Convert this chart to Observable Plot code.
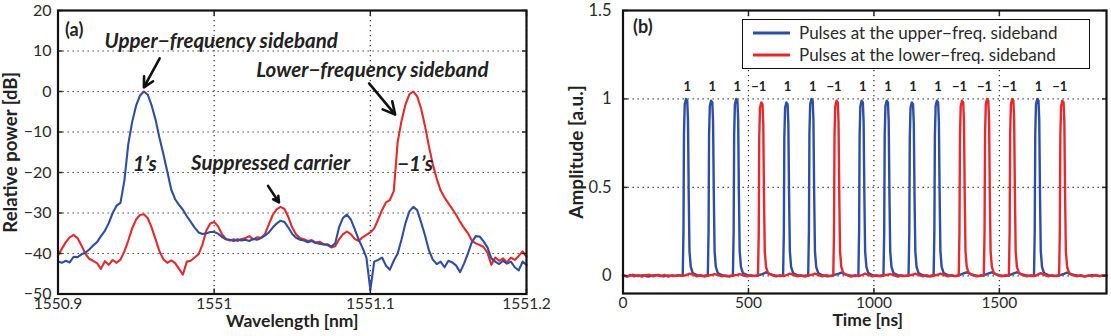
<!DOCTYPE html>
<html><head><meta charset="utf-8">
<script src="https://cdn.jsdelivr.net/npm/d3@7"></script>
<script src="https://cdn.jsdelivr.net/npm/@observablehq/plot@0.6"></script>
<style>
body{margin:0;background:#fff;width:1111px;height:336px;overflow:hidden;position:relative;font-family:Lato,sans-serif}
#a{position:absolute;left:0;top:0}
#b{position:absolute;left:560px;top:0}
#legend{position:absolute;left:742px;top:19px;width:346px;height:48px;border:1.5px solid #111;background:#fff}
</style></head><body>
<div id="a"></div><div id="b"></div><div id="legend"></div>
<script>
// ---------- Panel (a): optical spectrum ----------
const wlStart = 1550.9, wlStep = 0.0025;   // sampling grid of the spectrum (nm)
const wlTicks = [1550.9, 1551, 1551.1, 1551.2];
const powerTicks = [-50, -40, -30, -20, -10, 0, 10, 20];
const upperSideband = [
-42.0,-42.3,-41.8,-42.2,-40.8,-40.9,-40.2,-39.8,-39.0,-38.0,
-37.2,-35.7,-34.4,-32.5,-30.0,-28.2,-27.5,-22.0,-13.0,-7.5,
-3.5,-1.0,0.0,-0.8,-3.5,-7.0,-11.5,-15.5,-19.8,-24.2,
-26.6,-28.0,-29.2,-30.8,-32.2,-33.6,-34.8,-35.2,-35.0,-34.7,
-34.7,-35.1,-35.9,-36.5,-36.6,-36.9,-36.5,-36.8,-36.6,-36.9,
-36.4,-36.6,-36.2,-35.6,-34.8,-33.6,-32.6,-31.9,-32.2,-33.6,
-35.2,-36.1,-36.6,-36.8,-37.2,-36.9,-37.4,-37.6,-37.8,-37.7,
-38.3,-37.5,-33.5,-31.2,-30.4,-31.6,-34.0,-36.5,-38.6,-41.0,
-49.0,-42.0,-41.6,-41.0,-43.0,-44.0,-41.8,-40.0,-36.5,-32.5,
-29.6,-28.5,-29.3,-32.3,-35.5,-39.2,-41.5,-42.6,-42.0,-43.4,
-41.8,-42.2,-43.0,-44.6,-42.5,-40.0,-37.2,-35.7,-35.8,-37.0,
-38.5,-41.2,-42.0,-42.6,-41.8,-42.5,-42.0,-43.4,-44.2,-42.0,
-42.8];
const lowerSideband = [
-40.5,-38.8,-37.2,-36.0,-35.4,-36.2,-38.0,-40.0,-41.3,-41.8,
-42.4,-43.8,-41.9,-42.8,-41.6,-42.3,-41.5,-39.5,-36.8,-33.8,
-31.6,-30.5,-30.3,-31.3,-33.6,-36.5,-39.5,-41.4,-42.3,-41.7,
-42.4,-43.8,-45.2,-42.0,-41.8,-41.0,-40.2,-37.8,-34.3,-32.6,
-32.2,-33.3,-35.2,-36.4,-36.8,-36.5,-36.9,-36.4,-36.2,-35.7,
-36.5,-36.0,-36.1,-35.2,-32.8,-30.5,-29.1,-28.5,-29.0,-31.0,
-33.6,-35.3,-36.2,-36.5,-36.9,-36.7,-37.3,-37.1,-37.7,-37.9,
-38.5,-38.2,-36.5,-35.2,-34.6,-35.2,-36.4,-36.9,-36.0,-35.4,
-34.8,-33.8,-31.6,-29.3,-27.4,-26.8,-24.6,-12.5,-7.2,-3.2,
-0.7,0.0,-1.2,-4.2,-8.5,-13.5,-18.0,-21.5,-24.4,-26.2,
-27.6,-29.0,-30.5,-32.2,-33.7,-35.0,-36.8,-37.5,-37.9,-38.4,
-39.8,-42.8,-41.0,-41.8,-41.2,-42.2,-41.0,-41.6,-40.6,-39.5,
-40.8];
const spectrumNotes = [
  {text: "Upper\u2212frequency sideband", x: 1551.0045, y: 12.4},
  {text: "Lower\u2212frequency sideband", x: 1551.1013, y: 5.3},
  {text: "1\u2019s", x: 1550.9556, y: -18.0},
  {text: "Suppressed carrier", x: 1551.0362, y: -17.8},
  {text: "\u22121\u2019s", x: 1551.1287, y: -17.9}
];
const spectrumArrows = [
  {x1: 1550.9651, y1: 8.2, x2: 1550.9550, y2: 1.0},
  {x1: 1551.0992, y1: 2.0, x2: 1551.1159, y2: -5.7},
  {x1: 1551.0345, y1: -23.3, x2: 1551.0415, y2: -27.4}
];

// ---------- Panel (b): pulse trains ----------
const timeTicks = [0, 500, 1000, 1500];
const ampTicks = [0, 0.5, 1, 1.5];
const seriesNames = ["Pulses at the upper\u2212freq. sideband", "Pulses at the lower\u2212freq. sideband"];
const pulseTimes = [255,355,455,555,655,755,855,955,1055,1155,1255,1355,1455,1555,1655,1755];
const pulseBits = ["1","1","1","\u22121","1","1","\u22121","1","1","1","1","\u22121","\u22121","\u22121","1","\u22121"];
const upperTrace = [
[0,0.004],[20,-0.003],[40,0.005],[60,-0.002],[80,0.003],[100,-0.004],[120,0.002],[140,0.005],[160,-0.003],[180,0.002],[200,-0.002],[220,0.004],[238,0.0],
[241,0.25],[243,0.8],[246,0.97],[251,1.0],[256,0.99],[259,0.88],[262,0.45],[265,0.14],[270,0.05],[278,0.015],
[295,0.004],[315,-0.002],[335,0.003],[338,0.0],
[341,0.25],[343,0.79],[346,0.96],[351,0.99],[356,0.98],[359,0.87],[362,0.45],[365,0.14],[370,0.05],[378,0.015],
[395,0.003],[415,-0.003],[435,0.002],[438,0.0],
[441,0.25],[443,0.8],[446,0.97],[451,1.0],[456,0.99],[459,0.88],[462,0.45],[465,0.14],[470,0.05],[478,0.015],
[495,0.004],[515,-0.002],[540,0.003],[560,0.012],[570,0.02],[585,0.01],[605,0.002],[625,-0.002],[638,0.0],
[641,0.24],[643,0.78],[646,0.95],[651,0.98],[656,0.97],[659,0.86],[662,0.44],[665,0.14],[670,0.05],[678,0.015],
[695,0.003],[715,-0.002],[735,0.004],[738,0.0],
[741,0.25],[743,0.8],[746,0.97],[751,1.0],[756,0.99],[759,0.88],[762,0.45],[765,0.14],[770,0.05],[778,0.015],
[795,0.003],[815,-0.003],[840,0.004],[860,0.012],[870,0.018],[885,0.008],[905,0.002],[925,-0.002],[938,0.0],
[941,0.25],[943,0.79],[946,0.96],[951,0.99],[956,0.98],[959,0.87],[962,0.45],[965,0.14],[970,0.05],[978,0.015],
[995,0.003],[1015,-0.002],[1035,0.003],[1038,0.0],
[1041,0.25],[1043,0.79],[1046,0.96],[1051,0.99],[1056,0.98],[1059,0.87],[1062,0.45],[1065,0.14],[1070,0.05],[1078,0.015],
[1095,0.004],[1115,-0.002],[1135,0.002],[1138,0.0],
[1141,0.24],[1143,0.78],[1146,0.95],[1151,0.98],[1156,0.97],[1159,0.86],[1162,0.44],[1165,0.14],[1170,0.05],[1178,0.015],
[1195,0.003],[1215,-0.003],[1235,0.003],[1238,0.0],
[1241,0.25],[1243,0.79],[1246,0.96],[1251,0.99],[1256,0.98],[1259,0.87],[1262,0.45],[1265,0.14],[1270,0.05],[1278,0.015],
[1295,0.004],[1320,-0.002],[1340,0.004],[1360,0.015],[1370,0.02],[1385,0.01],[1400,0.004],[1420,-0.002],[1440,0.004],[1460,0.015],[1470,0.02],[1485,0.01],[1500,0.004],[1520,-0.002],[1540,0.004],[1560,0.015],[1570,0.02],[1585,0.01],[1605,0.003],[1625,-0.002],[1638,0.0],
[1641,0.25],[1643,0.8],[1646,0.97],[1651,1.0],[1656,0.99],[1659,0.88],[1662,0.45],[1665,0.14],[1670,0.05],[1678,0.015],
[1695,0.004],[1715,-0.002],[1740,0.003],[1760,0.012],[1770,0.018],[1785,0.008],[1810,0.002],[1840,-0.003],[1870,0.004],[1900,-0.002],[1927,0.003]
];
const lowerTrace = [
[0,0.003],[15,-0.004],[30,0.005],[45,-0.003],[60,0.004],[75,-0.005],[90,0.002],[105,0.006],[120,-0.003],[135,0.004],[150,-0.002],[165,0.005],[180,-0.004],[195,0.003],[210,-0.002],[225,0.004],[240,0.0],[255,0.006],[265,0.012],[280,0.006],[295,-0.003],[310,0.004],[325,-0.004],[340,0.002],[355,0.005],[365,0.01],[380,0.004],[395,-0.003],[410,0.003],[425,-0.004],[440,0.002],[455,0.005],[465,0.01],[480,0.003],[495,-0.003],[510,0.004],[525,-0.002],[538,0.0],
[541,0.24],[543,0.78],[546,0.95],[551,0.98],[556,0.97],[559,0.86],[562,0.44],[565,0.14],[570,0.05],[578,0.015],
[595,0.004],[610,-0.003],[625,0.003],[640,-0.002],[655,0.006],[665,0.012],[680,0.005],[695,-0.003],[710,0.004],[725,-0.004],[740,0.003],[755,0.006],[765,0.012],[780,0.004],[795,-0.003],[810,0.004],[825,-0.002],[838,0.0],
[841,0.25],[843,0.79],[846,0.96],[851,0.99],[856,0.98],[859,0.87],[862,0.45],[865,0.14],[870,0.05],[878,0.015],
[895,0.003],[910,-0.004],[925,0.004],[940,-0.002],[955,0.006],[965,0.012],[980,0.004],[995,-0.003],[1010,0.004],[1025,-0.003],[1040,0.003],[1055,0.006],[1065,0.01],[1080,0.004],[1095,-0.004],[1110,0.003],[1125,-0.002],[1140,0.003],[1155,0.006],[1165,0.012],[1180,0.004],[1195,-0.003],[1210,0.004],[1225,-0.004],[1240,0.002],[1255,0.006],[1265,0.012],[1280,0.004],[1295,-0.003],[1310,0.004],[1325,-0.002],[1338,0.0],
[1341,0.25],[1343,0.79],[1346,0.96],[1351,0.99],[1356,0.98],[1359,0.87],[1362,0.45],[1365,0.14],[1370,0.05],[1378,0.015],
[1395,0.004],[1410,-0.003],[1425,0.003],[1438,0.0],
[1441,0.25],[1443,0.8],[1446,0.97],[1451,1.0],[1456,0.99],[1459,0.88],[1462,0.45],[1465,0.14],[1470,0.05],[1478,0.015],
[1495,0.003],[1510,-0.003],[1525,0.004],[1538,0.0],
[1541,0.25],[1543,0.8],[1546,0.97],[1551,1.0],[1556,0.99],[1559,0.88],[1562,0.45],[1565,0.14],[1570,0.05],[1578,0.015],
[1595,0.004],[1610,-0.003],[1625,0.003],[1640,-0.002],[1655,0.008],[1665,0.015],[1680,0.005],[1695,-0.003],[1710,0.004],[1725,-0.002],[1738,0.0],
[1741,0.25],[1743,0.79],[1746,0.96],[1751,0.99],[1756,0.98],[1759,0.87],[1762,0.45],[1765,0.14],[1770,0.05],[1778,0.015],
[1795,0.004],[1810,-0.003],[1825,0.004],[1840,-0.004],[1855,0.003],[1870,-0.003],[1885,0.005],[1900,-0.002],[1915,0.003],[1927,-0.001]
];

// ---------- styles ----------
const BLUE = "#2d4ea3", RED = "#e52a2e";
const FONT = "Lato, sans-serif";
const grid = {stroke: "#333", strokeOpacity: 1, strokeWidth: 1.2, strokeDasharray: "1.3,3.7"};

const upperPts = upperSideband.map((v, i) => ({wl: wlStart + i * wlStep, p: v}));
const lowerPts = lowerSideband.map((v, i) => ({wl: wlStart + i * wlStep, p: v}));

const plotA = Plot.plot({
  width: 560, height: 336,
  marginLeft: 57.5, marginRight: 34, marginTop: 10, marginBottom: 42.5,
  style: {fontFamily: FONT, fontSize: "16px", color: "#2a2a2a", background: "white", overflow: "visible"},
  x: {domain: [1550.9, 1551.2], label: null},
  y: {domain: [-50, 20], label: null},
  marks: [
    Plot.gridX(wlTicks, grid),
    Plot.gridY(powerTicks, grid),
    Plot.line(lowerPts, {x: "wl", y: "p", stroke: RED, strokeWidth: 2.1}),
    Plot.line(upperPts, {x: "wl", y: "p", stroke: BLUE, strokeWidth: 2.1}),
    Plot.axisX(wlTicks, {anchor: "bottom", tickSize: -5, tickPadding: 8.5, tickFormat: d => String(d), fontSize: 15.5, strokeWidth: 1.5}),
    Plot.axisX(wlTicks, {anchor: "top", tickSize: -5, tickFormat: () => "", strokeWidth: 1.5}),
    Plot.axisY(powerTicks, {anchor: "left", tickSize: -5, tickPadding: 11.5, fontSize: 16, strokeWidth: 1.5}),
    Plot.axisY(powerTicks, {anchor: "right", tickSize: -5, tickFormat: () => "", strokeWidth: 1.5}),
    Plot.frame({stroke: "#111", strokeWidth: 2.2}),
    Plot.text(["(a)"], {frameAnchor: "top-left", lineAnchor: "middle", dx: 7, dy: 20, textAnchor: "start", fontWeight: "bold", fontSize: 18, fill: "#222"}),
    Plot.text(spectrumNotes, {x: "x", y: "y", text: "text", fontWeight: "bold", fontStyle: "italic", fontSize: 20.5, fill: "#222"}),
    Plot.arrow(spectrumArrows, {x1: "x1", y1: "y1", x2: "x2", y2: "y2", stroke: "#111", strokeWidth: 2.6, headLength: 10, headAngle: 55}),
    Plot.text(["Relative power [dB]"], {frameAnchor: "left", textAnchor: "middle", rotate: -90, dx: -47, fontWeight: "bold", fontSize: 18.5, fill: "#222"}),
    Plot.text(["Wavelength [nm]"], {frameAnchor: "bottom", textAnchor: "middle", dy: 32.5, fontWeight: "bold", fontSize: 17.5, fill: "#222"})
  ]
});
document.getElementById("a").appendChild(plotA);

const upperTr = upperTrace.map(([t, v]) => ({t, v}));
const lowerTr = lowerTrace.map(([t, v]) => ({t, v}));
const labels = pulseTimes.map((t, i) => ({t, bit: pulseBits[i]}));

const plotB = Plot.plot({
  width: 551, height: 336,
  marginLeft: 62.5, marginRight: 5, marginTop: 10, marginBottom: 43,
  style: {fontFamily: FONT, fontSize: "16px", color: "#2a2a2a", background: "white", overflow: "visible"},
  x: {domain: [0, 1927], label: null},
  y: {domain: [-0.1, 1.5], label: null},
  marks: [
    Plot.gridX(timeTicks.slice(1), grid),
    Plot.gridY(ampTicks, grid),
    Plot.line(upperTr, {x: "t", y: "v", stroke: BLUE, strokeWidth: 2.4}),
    Plot.line(lowerTr, {x: "t", y: "v", stroke: RED, strokeWidth: 2.4}),
    Plot.text(labels, {x: "t", y: 1.07, text: "bit", textAnchor: "end", dx: 4, fontWeight: "bold", fontSize: 13, fill: "#222"}),
    Plot.axisX(timeTicks, {anchor: "bottom", tickSize: -5, tickPadding: 8, tickFormat: d => String(d), fontSize: 15.5, strokeWidth: 1.5}),
    Plot.axisX(timeTicks, {anchor: "top", tickSize: -5, tickFormat: () => "", strokeWidth: 1.5}),
    Plot.axisY(ampTicks, {anchor: "left", tickSize: -5, tickPadding: 16.5, tickFormat: d => String(d), fontSize: 16.5, strokeWidth: 1.5}),
    Plot.axisY(ampTicks, {anchor: "right", tickSize: -5, tickFormat: () => "", strokeWidth: 1.5}),
    Plot.frame({stroke: "#111", strokeWidth: 2.2}),
    Plot.text(["(b)"], {frameAnchor: "top-left", lineAnchor: "middle", dx: 10, dy: 17, textAnchor: "start", fontWeight: "bold", fontSize: 18, fill: "#222"}),
    Plot.text(["Amplitude [a.u.]"], {frameAnchor: "left", textAnchor: "middle", rotate: -90, dx: -46, fontWeight: "bold", fontSize: 19, fill: "#222"}),
    Plot.text(["Time [ns]"], {frameAnchor: "bottom", textAnchor: "middle", dx: 3, dy: 32.5, fontWeight: "bold", fontSize: 17.5, fill: "#222"})
  ]
});
document.getElementById("b").appendChild(plotB);

// legend (HTML/SVG, drawn over panel b)
const leg = document.getElementById("legend");
const ns = "http://www.w3.org/2000/svg";
const ls = document.createElementNS(ns, "svg");
ls.setAttribute("width", 346); ls.setAttribute("height", 48);
[[BLUE, 13], [RED, 35]].forEach(([c, cy], i) => {
  const ln = document.createElementNS(ns, "line");
  ln.setAttribute("x1", 10); ln.setAttribute("x2", 47); ln.setAttribute("y1", cy); ln.setAttribute("y2", cy);
  ln.setAttribute("stroke", c); ln.setAttribute("stroke-width", 3);
  ls.appendChild(ln);
  const tx = document.createElementNS(ns, "text");
  tx.setAttribute("x", 56); tx.setAttribute("y", cy); tx.setAttribute("dy", "0.35em");
  tx.setAttribute("font-family", FONT); tx.setAttribute("font-size", 17); tx.setAttribute("fill", "#2a2a2a");
  tx.textContent = seriesNames[i];
  ls.appendChild(tx);
});
leg.appendChild(ls);
</script></body></html>
